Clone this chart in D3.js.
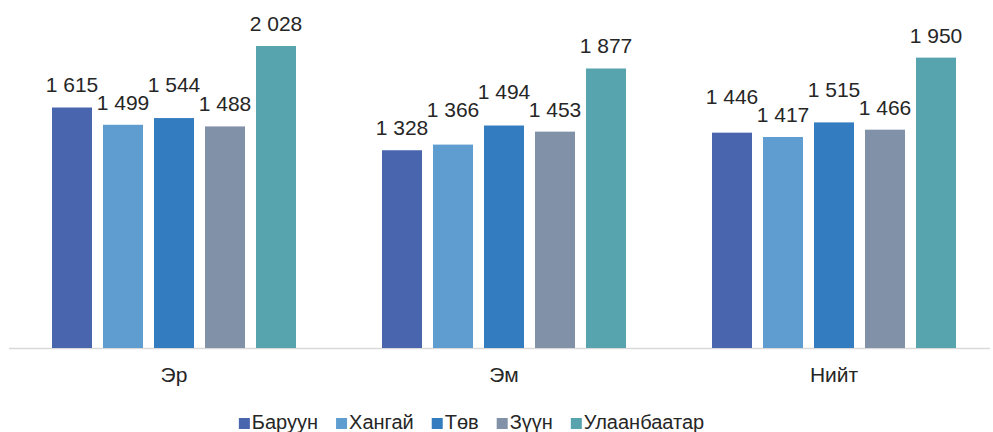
<!DOCTYPE html>
<html><head><meta charset="utf-8">
<script src="https://cdn.jsdelivr.net/npm/d3@7"></script>
<style>
body{margin:0;background:#fff;}
svg{display:block;font-family:"Liberation Sans",Arial,sans-serif;}
</style></head>
<body><svg id="c" width="993" height="432"></svg>
<script>
const categories = ["Эр", "Эм", "Нийт"];
const seriesNames = ["Баруун", "Хангай", "Төв", "Зүүн", "Улаанбаатар"];
const baruun = [1615, 1328, 1446];
const khangai = [1499, 1366, 1417];
const tuv = [1544, 1494, 1515];
const zuun = [1488, 1453, 1466];
const ulaanbaatar = [2028, 1877, 1950];
const seriesValues = [baruun, khangai, tuv, zuun, ulaanbaatar];
const colors = ["#4965ae", "#5f9dd1", "#337cc0", "#8091a8", "#58a4ae"];

const svg = d3.select("#c");
const baseY = 348;
const x0 = d3.scaleBand().domain(categories).range([9, 999]);
const x1 = d3.scaleBand().domain(seriesNames).range([43, 287]).paddingInner(11/51).paddingOuter(0);
const y = d3.scaleLinear().domain([0, 2028]).range([baseY, 46]);
const color = d3.scaleOrdinal().domain(seriesNames).range(colors);
const fmt = v => d3.format(",")(v).replace(/,/g, " ");

// axis line
svg.append("line").attr("x1", 9).attr("x2", 990).attr("y1", baseY + 0.5).attr("y2", baseY + 0.5)
  .attr("stroke", "#d9d9d9").attr("stroke-width", 1.5);

const flat = [];
categories.forEach((c, i) => {
  seriesNames.forEach((s, j) => flat.push({cat: c, ser: s, v: seriesValues[j][i]}));
});

svg.append("g").selectAll("rect").data(flat).join("rect")
  .attr("x", d => x0(d.cat) + x1(d.ser))
  .attr("width", x1.bandwidth())
  .attr("y", d => y(d.v))
  .attr("height", d => baseY - y(d.v))
  .attr("fill", d => color(d.ser));

// value labels with simple collision avoidance
const labels = flat.map(d => ({...d, cx: x0(d.cat) + x1(d.ser) + x1.bandwidth()/2, base: y(d.v) - 15}));
const placed = [];
const capH = 15, pad = 3, halfW = 27;
labels.slice().sort((a, b) => a.v - b.v).forEach(l => {
  let moved = true;
  while (moved) {
    moved = false;
    for (const p of placed) {
      if (Math.abs(p.cx - l.cx) < 2*halfW) {
        const lt = l.base - capH, pt = p.base - capH;
        if (l.base + pad > pt && lt < p.base + pad) {
          l.base = pt - pad;
          moved = true;
        }
      }
    }
  }
  placed.push(l);
});
svg.append("g").selectAll("text").data(labels).join("text")
  .attr("x", d => d.cx).attr("y", d => d.base)
  .attr("text-anchor", "middle").attr("font-size", 21).attr("fill", "#262626")
  .text(d => fmt(d.v));

// category labels
svg.append("g").selectAll("text").data(categories).join("text")
  .attr("x", d => x0(d) + x0.bandwidth()/2).attr("y", 382)
  .attr("text-anchor", "middle").attr("font-size", 21).attr("fill", "#262626")
  .text(d => d);

// legend
const lg = svg.append("g");
let lx = 0;
seriesNames.forEach((s, i) => {
  const g = lg.append("g").attr("transform", `translate(${lx},0)`);
  g.append("rect").attr("x", 0).attr("y", 418).attr("width", 11).attr("height", 11).attr("fill", colors[i]);
  const t = g.append("text").attr("x", 13).attr("y", 429).attr("font-size", 20).attr("fill", "#262626").text(s);
  lx += 13 + t.node().getComputedTextLength() + 18;
});
const totalW = lx - 18;
lg.attr("transform", `translate(${471.5 - totalW/2},0)`);
</script></body></html>
